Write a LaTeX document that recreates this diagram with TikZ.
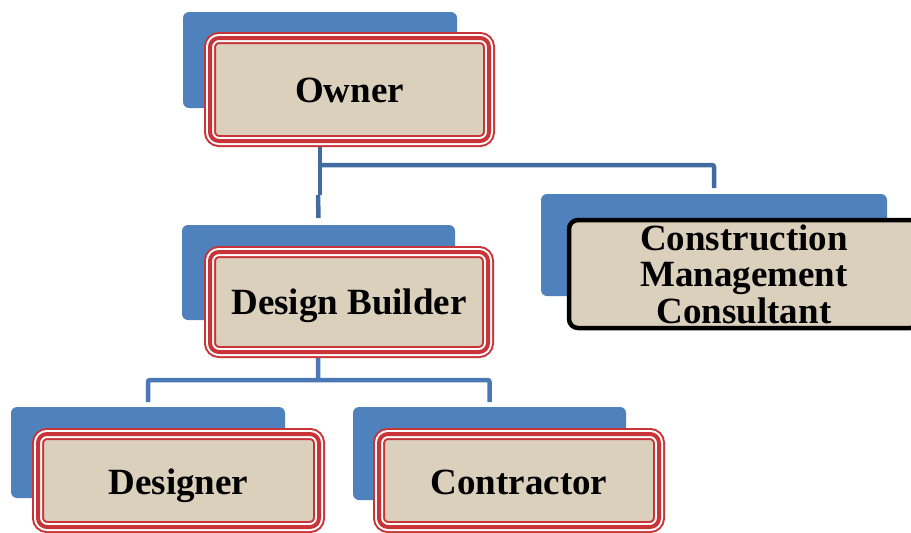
\documentclass[tikz,border=0pt]{standalone}
\usepackage{fontspec}
\setmainfont{Liberation Serif}
\usetikzlibrary{backgrounds}
\definecolor{backblue}{RGB}{79,129,189}
\definecolor{linkblue}{RGB}{66,108,160}
\definecolor{linkblueB}{RGB}{74,120,180}
\definecolor{linen}{RGB}{218,208,188}
\definecolor{frame}{RGB}{200,52,56}
\tikzset{
  backcard/.style={fill=backblue, rounded corners=6pt, inner sep=0pt, outer sep=0pt},
  % triple red frame: thin red, white, thick red, white, thin red
  redcard/.style={
    fill=linen, rounded corners=9pt,
    postaction={draw=frame, line width=12pt},
    postaction={draw=white, line width=8pt},
    postaction={draw=frame, line width=4pt},
    inner sep=0pt, outer sep=0pt, text height=28pt, text depth=3pt,
    font=\fontsize{37}{37}\selectfont\bfseries, text=black},
  blackcard/.style={fill=linen, draw=black, line width=4.5pt, rounded corners=9pt,
    inner sep=0pt, outer sep=0pt, align=center,
    font=\fontsize{37}{36.5}\selectfont\bfseries, text=black},
  link/.style={draw=linkblue, line width=4.5pt},
  linkB/.style={draw=linkblueB, line width=4.5pt, rounded corners=2pt},
}
\begin{document}
\begin{tikzpicture}[x=1pt, y=-1pt]
\useasboundingbox (0,0) rectangle (911,533);

% Owner
\node[backcard, minimum width=274pt, minimum height=96pt] (ownerB) at (320,60) {};
\node[redcard, minimum width=279pt, minimum height=103pt] (ownerF) at (349.5,89.5) {Owner};

% Design Builder
\node[backcard, minimum width=273pt, minimum height=95pt] (dbB) at (318.5,272.5) {};
\node[redcard, minimum width=278pt, minimum height=100pt] (dbF) at (349,302) {Design Builder};

% Construction Management Consultant
\node[backcard, minimum width=346pt, minimum height=102pt] (cmcB) at (714,245) {};
\node[blackcard, minimum width=350pt, minimum height=108pt] (cmcF) at (744,274)
  {Construction\\Management\\Consultant};

% Designer
\node[backcard, minimum width=274pt, minimum height=91pt] (desB) at (148,452.5) {};
\node[redcard, text depth=-2pt, minimum width=281pt, minimum height=93pt] (desF) at (178.5,480.5) {Designer};

% Contractor
\node[backcard, minimum width=273pt, minimum height=93pt] (conB) at (489.5,453.5) {};
\node[redcard, text depth=-4pt, minimum width=280pt, minimum height=93pt] (conF) at (519,480.5) {Contractor};

\begin{scope}[on background layer]
  % hub below the owner
  \coordinate (hubA) at (320,165);
  \coordinate (jog) at (320,195);
  \draw[link] (ownerF.center -| ownerB.center) -- (jog);
  \draw[link] ([xshift=-2pt]jog) -- ([yshift=7pt]dbB.north);
  \draw[link, rounded corners=2pt] ([xshift=-2.25pt]hubA) -| ([yshift=6pt]cmcB.north);
  % hub below the design builder
  \coordinate (hubB) at (318,380);
  \draw[linkB] (dbF.center -| dbB.center) -- (hubB);
  \draw[linkB] ([yshift=5pt]desB.north) |- (hubB) -| ([yshift=5pt]conB.north);
\end{scope}
\end{tikzpicture}
\end{document}
